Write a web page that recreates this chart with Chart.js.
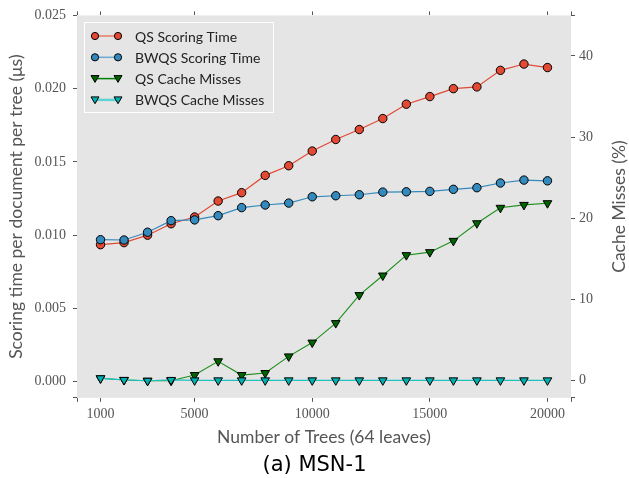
<!DOCTYPE html>
<html><head><meta charset="utf-8">
<script src="https://cdn.jsdelivr.net/npm/chart.js@4/dist/chart.umd.min.js"></script>
<style>html,body{margin:0;padding:0;background:#fff;}</style>
</head><body>
<canvas id="c" width="629" height="478"></canvas>
<script>
const trees = [1000,2000,3000,4000,5000,6000,7000,8000,9000,10000,11000,12000,13000,14000,15000,16000,17000,18000,19000,20000];
const qsTime = [0.00935,0.00949,0.01000,0.01078,0.01124,0.01233,0.01290,0.01408,0.01474,0.01574,0.01653,0.01721,0.01796,0.01894,0.01946,0.02000,0.02012,0.02125,0.02168,0.02144];
const bwqsTime = [0.00969,0.00967,0.01020,0.01099,0.01104,0.01133,0.01188,0.01206,0.01219,0.01262,0.01269,0.01276,0.01294,0.01296,0.01299,0.01313,0.01324,0.01356,0.01376,0.01371];
const qsMiss = [0.3,0.1,0.0,0.0,0.7,2.4,0.7,0.95,3.0,4.7,7.1,10.55,12.96,15.47,15.84,17.23,19.4,21.3,21.66,21.87];
const bwqsMiss = [0.3,0.1,0.0,0.1,0.05,0.05,0.05,0.05,0.05,0.05,0.05,0.05,0.05,0.05,0.05,0.05,0.05,0.05,0.05,0.05];
const xTickLabels = [1000,5000,10000,15000,20000];
const leftTickLabels = [0,0.005,0.010,0.015,0.020,0.025];
const rightTickLabels = [0,10,20,30,40];

const SERIF = "'Liberation Serif', serif";
const SANS = "Lato, 'Open Sans', sans-serif";
const GRAY = '#555555';

const X_MIN = 0, X_MAX = 21000;
const L_MIN = -0.0011, L_MAX = 0.025;
const R_MIN = -2.1, R_MAX = 45;

function pts(ys){ return trees.map((x,i)=>({x:x, y:ys[i]})); }

const tickGrid = {display:true, drawOnChartArea:false, drawTicks:true, tickLength:4, color:GRAY, lineWidth:1};

const legendPlugin = {
  id:'mplLegend',
  afterDraw(chart){
    const ctx = chart.ctx;
    const x0 = 84, y0 = 22, w = 190, h = 91;
    ctx.save();
    ctx.fillStyle = '#e5e5e5';
    ctx.strokeStyle = '#ffffff';
    ctx.lineWidth = 1;
    ctx.fillRect(x0, y0, w, h);
    ctx.strokeRect(x0+0.5, y0+0.5, w-1, h-1);
    ctx.font = "14px " + SANS;
    ctx.textBaseline = 'middle';
    chart.data.datasets.forEach((ds, i) => {
      const yy = 36 + i*21.3;
      ctx.strokeStyle = ds.legendLine || ds.borderColor;
      ctx.lineWidth = ds.legendLineWidth || 1.5;
      ctx.beginPath(); ctx.moveTo(95, yy); ctx.lineTo(118, yy); ctx.stroke();
      [95,118].forEach(px => {
        ctx.fillStyle = ds.pointBackgroundColor;
        ctx.strokeStyle = '#000';
        ctx.lineWidth = 1;
        ctx.beginPath();
        if (ds.pointStyle === 'circle') {
          ctx.arc(px, yy, 3.6, 0, Math.PI*2);
        } else {
          const r = 4;
          ctx.moveTo(px - r, yy - r*0.75);
          ctx.lineTo(px + r, yy - r*0.75);
          ctx.lineTo(px, yy + r*0.95);
          ctx.closePath();
        }
        ctx.fill(); ctx.stroke();
      });
      ctx.fillStyle = '#222';
      ctx.fillText(ds.label, 135, yy+1);
    });
    // right axis title (matplotlib reads bottom-to-top)
    const t = chart.options.scales.y1.title;
    ctx.save();
    ctx.translate(619, (chart.chartArea.top + chart.chartArea.bottom)/2);
    ctx.rotate(-Math.PI/2);
    ctx.font = "17.5px " + SANS;
    ctx.fillStyle = GRAY;
    ctx.textAlign = 'center';
    ctx.textBaseline = 'middle';
    ctx.fillText(t.text, 0, 0);
    ctx.restore();
    ctx.restore();
  }
};

const bgPlugin = {
  id:'plotBg',
  beforeDraw(chart){
    const {ctx, chartArea:a} = chart;
    ctx.save();
    ctx.fillStyle = '#ffffff';
    ctx.fillRect(0,0,chart.width,chart.height);
    ctx.fillStyle = '#e5e5e5';
    ctx.fillRect(a.left, a.top, a.right-a.left, a.bottom-a.top);
    ctx.restore();
  }
};

new Chart(document.getElementById('c'), {
  type:'line',
  data:{
    datasets:[
      {label:'QS Scoring Time', data:pts(qsTime), yAxisID:'y', borderColor:'#E24A33', borderWidth:1.2,
       pointStyle:'circle', pointRadius:4.2, pointBackgroundColor:'#E24A33', pointBorderColor:'#000', pointBorderWidth:1, order:4, legendLine:'#E9796A'},
      {label:'BWQS Scoring Time', data:pts(bwqsTime), yAxisID:'y', borderColor:'#348ABD', borderWidth:1.2,
       pointStyle:'circle', pointRadius:4.2, pointBackgroundColor:'#348ABD', pointBorderColor:'#000', pointBorderWidth:1, order:3, legendLine:'#6AAAD3'},
      {label:'QS Cache Misses', data:pts(qsMiss), yAxisID:'y1', borderColor:'#1a8f1a', borderWidth:1.1,
       pointStyle:'triangle', pointRotation:180, pointRadius:5, pointBackgroundColor:'#006400', pointBorderColor:'#000', pointBorderWidth:1, order:2, legendLine:'#008000'},
      {label:'BWQS Cache Misses', data:pts(bwqsMiss), yAxisID:'y1', borderColor:'#1fc0c0', borderWidth:1.2,
       pointStyle:'triangle', pointRotation:180, pointRadius:5, pointBackgroundColor:'#00AFAF', pointBorderColor:'#000', pointBorderWidth:1, order:1, legendLine:'#5fd3d3', legendLineWidth:2.5}
    ]
  },
  options:{
    responsive:false, animation:false, devicePixelRatio:1,
    layout:{padding:0},
    plugins:{
      legend:{display:false}, tooltip:{enabled:false},
      title:{display:true, position:'bottom', text:'(a) MSN-1', color:'#000', font:{family:"'DejaVu Sans', sans-serif", size:21, weight:'normal'}, padding:{top:4,bottom:0}}
    },
    scales:{
      x:{type:'linear', position:'bottom', min:X_MIN, max:X_MAX,
         afterBuildTicks(s){ s.ticks = [X_MIN].concat(xTickLabels, [X_MAX]).map(v=>({value:v})); },
         afterFit(s){ s.height = 51; },
         ticks:{autoSkip:false, maxRotation:0, color:GRAY, font:{family:SERIF, size:14}, padding:4,
                callback:(v)=> xTickLabels.includes(v) ? String(v) : ''},
         grid:tickGrid, border:{display:false},
         title:{display:true, text:'Number of Trees (64 leaves)', color:GRAY, font:{family:SANS, size:17.5}, padding:{top:0,bottom:1}}},
      xTop:{type:'linear', position:'top', min:X_MIN, max:X_MAX,
         afterBuildTicks(s){ s.ticks = [X_MIN].concat(xTickLabels, [X_MAX]).map(v=>({value:v})); },
         afterFit(s){ s.height = 15; },
         ticks:{display:false}, grid:tickGrid, border:{display:false}},
      y:{type:'linear', position:'left', min:L_MIN, max:L_MAX,
         afterBuildTicks(s){ s.ticks = [L_MIN].concat(leftTickLabels).map(v=>({value:v})); },
         afterFit(s){ s.width = 77; },
         ticks:{autoSkip:false, color:GRAY, font:{family:SERIF, size:14}, padding:7,
                callback:(v)=> v < -0.0005 ? '' : v.toFixed(3)},
         grid:tickGrid, border:{display:false},
         title:{display:true, text:'Scoring time per document per tree (μs)', color:GRAY, font:{family:SANS, size:17.5}, padding:{top:6,bottom:0}}},
      y1:{type:'linear', position:'right', min:R_MIN, max:R_MAX,
         afterBuildTicks(s){ s.ticks = [R_MIN].concat(rightTickLabels, [R_MAX]).map(v=>({value:v})); },
         afterFit(s){ s.width = 58; },
         ticks:{autoSkip:false, color:GRAY, font:{family:SERIF, size:14}, padding:4,
                callback:(v)=> rightTickLabels.includes(v) ? String(v) : ''},
         grid:tickGrid, border:{display:false},
         title:{display:false, text:'Cache Misses (%)'}}
    }
  },
  plugins:[bgPlugin, legendPlugin]
});
</script>
</body></html>
